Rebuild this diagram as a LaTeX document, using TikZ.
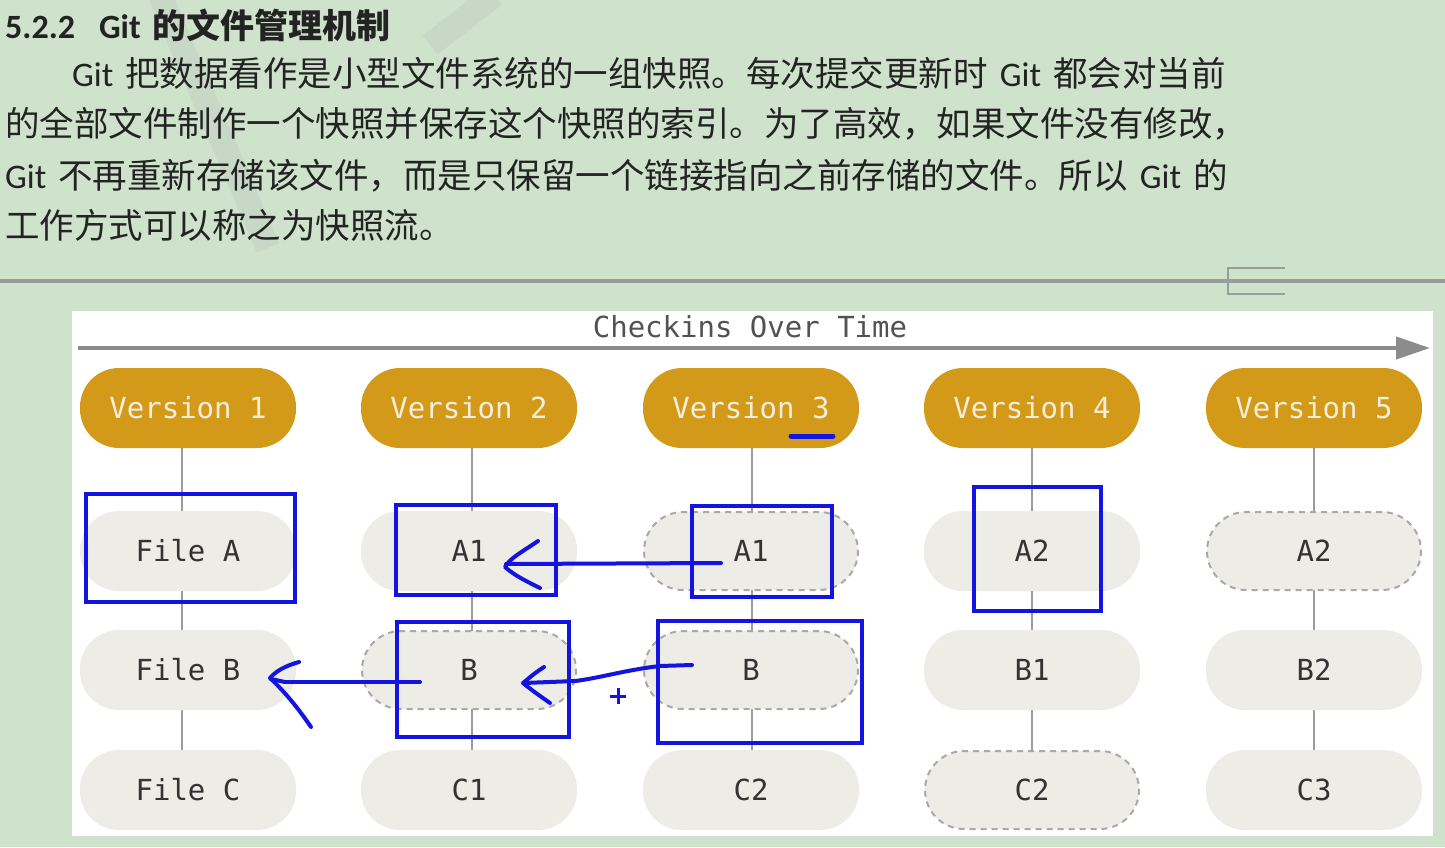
\documentclass[tikz,border=0pt]{standalone}
\usepackage{fontspec}
\setmainfont{Carlito}
\newfontfamily\cjk{Noto Sans CJK SC}
\newfontfamily\mono{DejaVu Sans Mono}
\usetikzlibrary{backgrounds,arrows.meta}
\definecolor{bgc}{HTML}{CFE3CC}
\definecolor{wmk}{HTML}{C8D8C6}
\definecolor{sepc}{HTML}{979F9A}
\definecolor{vercol}{HTML}{D39A1A}
\definecolor{vertext}{HTML}{F6EEDC}
\definecolor{filecol}{HTML}{EDECE7}
\definecolor{filetext}{HTML}{333333}
\definecolor{dashc}{HTML}{A9A9A9}
\definecolor{linec}{HTML}{9C9C9C}
\definecolor{arrc}{HTML}{8C8C8C}
\definecolor{inkblue}{HTML}{1414E0}
\definecolor{bodytext}{HTML}{232323}
\begin{document}
\begin{tikzpicture}[x=1pt,y=-1pt,
  txt/.style={anchor=base west, inner sep=0pt, text=bodytext, font=\fontsize{34.5}{40}\selectfont},
  head/.style={anchor=base west, inner sep=0pt, text=bodytext, font=\bfseries\fontsize{34}{40}\selectfont},
  ver/.style={rectangle, rounded corners=39pt, fill=vercol, text=vertext, minimum width=216pt, minimum height=80pt, inner sep=0pt, font=\mono\fontsize{29}{30}\selectfont},
  fil/.style={rectangle, rounded corners=39pt, fill=filecol, text=filetext, minimum width=216pt, minimum height=80pt, inner sep=0pt, font=\mono\fontsize{29}{30}\selectfont},
  dfil/.style={fil, draw=dashc, line width=2pt, dash pattern=on 6pt off 5pt, minimum width=214pt, minimum height=78pt},
  vline/.style={draw=linec, line width=2pt},
  bluebox/.style={draw=inkblue, line width=4pt},
  blueink/.style={draw=inkblue, line width=4pt, line cap=round, line join=round}
]
\useasboundingbox (0,0) rectangle (1445,847);

% heading and paragraph
\node[head] (h) at (5,38) {5.2.2\hspace{24pt}Git\hspace{12pt}{\cjk\bfseries 的文件管理机制}};
\node[txt] (p1) at (72,86) {Git\hspace{12pt}{\cjk 把数据看作是小型文件系统的一组快照。每次提交更新时}\hspace{12pt}Git\hspace{12pt}{\cjk 都会对当前}};
\node[txt] (p2) at (5,136) {{\cjk 的全部文件制作一个快照并保存这个快照的索引。为了高效，如果文件没有修改，}};
\node[txt] (p3) at (5,188) {Git\hspace{12pt}{\cjk 不再重新存储该文件，而是只保留一个链接指向之前存储的文件。所以}\hspace{12pt}Git\hspace{12pt}{\cjk 的}};
\node[txt] (p4) at (5,238) {{\cjk 工作方式可以称之为快照流。}};

% title of the diagram
\node[inner sep=0pt, text=black!68, font=\mono\fontsize{29}{30}\selectfont] (title) at (750,327) {Checkins Over Time};
\coordinate (tl) at (78,348);
\coordinate (tr) at (1430,348);
\draw[draw=arrc, line width=4pt, -{Triangle[length=34pt,width=22pt]}] (tl) -- (tr);

% versions
\node[ver] (v1) at (188,408) {Version 1};
\node[ver] (v2) at (469,408) {Version 2};
\node[ver] (v3) at (751,408) {Version 3};
\node[ver] (v4) at (1032,408) {Version 4};
\node[ver] (v5) at (1314,408) {Version 5};

% files
\node[fil]  (a1) at (188,551) {File A};
\node[fil]  (b1) at (188,670) {File B};
\node[fil]  (c1) at (188,790) {File C};
\node[fil]  (a2) at (469,551) {A1};
\node[dfil] (b2) at (469,670) {B};
\node[fil]  (c2) at (469,790) {C1};
\node[dfil] (a3) at (751,551) {A1};
\node[dfil] (b3) at (751,670) {B};
\node[fil]  (c3) at (751,790) {C2};
\node[fil]  (a4) at (1032,551) {A2};
\node[fil]  (b4) at (1032,670) {B1};
\node[dfil] (c4) at (1032,790) {C2};
\node[dfil] (a5) at (1314,551) {A2};
\node[fil]  (b5) at (1314,670) {B2};
\node[fil]  (c5) at (1314,790) {C3};

\begin{pgfonlayer}{background}
  \fill[bgc] (0,0) rectangle (1445,847);
  % faint watermark strokes
  \draw[wmk, line width=24pt] (160,-5) -- (268,248);
  \draw[wmk, line width=24pt] (495,-5) -- (430,45);
  % separator
  \draw[sepc, line width=3.5pt] (0,281) -- (1445,281);
  \draw[sepc, line width=1.2pt] (1285,268) -- (1228,268) -- (1228,294) -- (1285,294);
  % white panel
  \fill[white] (72,311) rectangle (1433,836);
  % column lines
  \draw[vline] ([xshift=-6pt]v1.south) -- ([xshift=-6pt]c1.north);
  \draw[vline] ([xshift=3pt]v2.south) -- ([xshift=3pt]c2.north);
  \draw[vline] ([xshift=1pt]v3.south) -- ([xshift=1pt]c3.north);
  \draw[vline] (v4.south) -- (c4.north);
  \draw[vline] (v5.south) -- (c5.north);
\end{pgfonlayer}

% blue hand-drawn annotations
\draw[bluebox] (86,494) rectangle (295,602);
\draw[bluebox] (396,505) rectangle (556,595);
\draw[bluebox] (692,506) rectangle (832,597);
\draw[bluebox] (974,487) rectangle (1101,611);
\draw[bluebox] (397,622) rectangle (569,737);
\draw[bluebox] (658,621) rectangle (862,743);
\draw[inkblue, line width=5pt, line cap=round] (791,436) -- (833,436);

\coordinate (s1) at (721,563);
\coordinate (t1) at (506,564);
\draw[blueink] (s1) -- (t1);
\draw[blueink] (538,541) .. controls (522,552) and (510,558) .. (505,567) .. controls (515,576) and (528,582) .. (540,588);

\coordinate (s2) at (692,665);
\coordinate (t2) at (524,683);
\draw[blueink] (s2) -- (660,666) .. controls (625,670) and (600,678) .. (575,681) -- (t2);
\draw[blueink] (544,667) .. controls (535,673) .. (523,683) .. controls (533,691) .. (550,703);
\draw[inkblue, line width=3pt] (610,696) -- (626,696) (618,688) -- (618,704);

\coordinate (s3) at (420,682);
\coordinate (t3) at (285,682);
\draw[blueink] (s3) -- (t3);
\draw[blueink] (299,662) .. controls (285,666) and (276,671) .. (270,678) .. controls (285,692) and (298,708) .. (311,727);
\draw[blueink] (271,679) -- (t3);
\end{tikzpicture}
\end{document}
